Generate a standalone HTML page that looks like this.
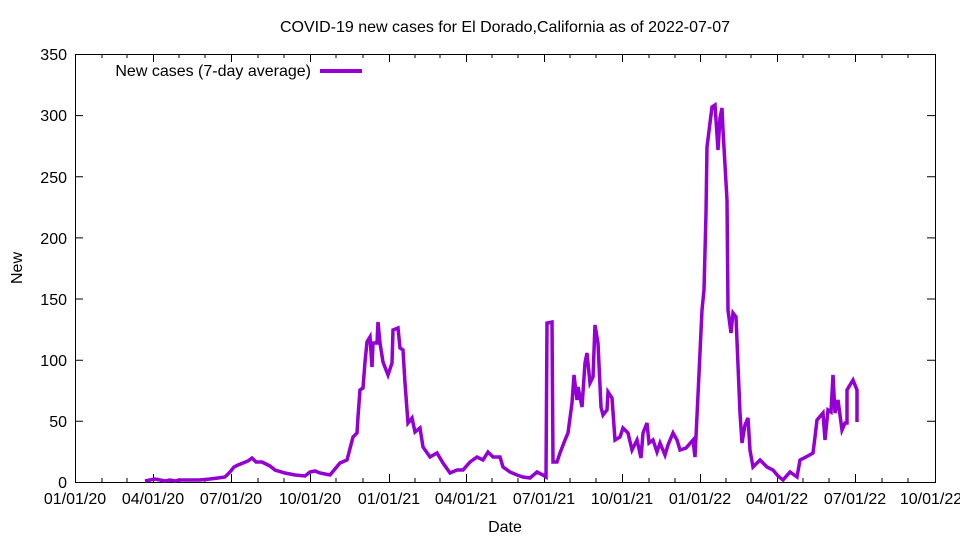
<!DOCTYPE html>
<html><head><meta charset="utf-8"><style>body{margin:0;background:#fff}svg{display:block}text{font-family:"Liberation Sans",sans-serif;font-size:16px;fill:#000}</style></head>
<body>
<svg width="960" height="540" viewBox="0 0 960 540">
<text x="505" y="32" text-anchor="middle">COVID-19 new cases for El Dorado,California as of 2022-07-07</text>
<g stroke="#000" stroke-width="1" fill="none">
<rect x="75.5" y="54.5" width="860" height="428"/>
<path d="M75 482.5h8M75 421.3h8M75 360.2h8M75 299h8M75 237.9h8M75 176.7h8M75 115.6h8M935 421.3h-8M935 360.2h-8M935 299h-8M935 237.9h-8M935 176.7h-8M935 115.6h-8"/>
<path d="M75.5 482v-8M153.5 482v-8M231.5 482v-8M310.5 482v-8M389.5 482v-8M466.5 482v-8M544.5 482v-8M622.5 482v-8M700.5 482v-8M777.5 482v-8M855.5 482v-8M75.5 54v8M153.5 54v8M231.5 54v8M310.5 54v8M389.5 54v8M466.5 54v8M544.5 54v8M622.5 54v8M700.5 54v8M777.5 54v8M855.5 54v8"/>
<path d="M102 482v-4M127 482v-4M179 482v-4M205 482v-4M258 482v-4M284 482v-4M336 482v-4M363 482v-4M415 482v-4M440 482v-4M492 482v-4M518 482v-4M570 482v-4M596 482v-4M649 482v-4M675 482v-4M726 482v-4M751 482v-4M803 482v-4M829 482v-4M882 482v-4M908 482v-4M102 54v4M127 54v4M179 54v4M205 54v4M258 54v4M284 54v4M336 54v4M363 54v4M415 54v4M440 54v4M492 54v4M518 54v4M570 54v4M596 54v4M649 54v4M675 54v4M726 54v4M751 54v4M803 54v4M829 54v4M882 54v4M908 54v4"/>
</g>
<g text-anchor="end">
<text x="67" y="488">0</text><text x="67" y="427">50</text><text x="67" y="366">100</text><text x="67" y="305">150</text><text x="67" y="244">200</text><text x="67" y="183">250</text><text x="67" y="121">300</text><text x="67" y="60">350</text>
</g>
<g text-anchor="middle">
<text x="75" y="504">01/01/20</text><text x="153" y="504">04/01/20</text><text x="231" y="504">07/01/20</text><text x="310" y="504">10/01/20</text><text x="389" y="504">01/01/21</text><text x="466" y="504">04/01/21</text><text x="544" y="504">07/01/21</text><text x="622" y="504">10/01/21</text><text x="700" y="504">01/01/22</text><text x="777" y="504">04/01/22</text><text x="855" y="504">07/01/22</text><text x="931" y="504">10/01/22</text>
<text x="505" y="532">Date</text>
<text transform="translate(22,268) rotate(-90)">New</text>
</g>
<text x="311" y="76" text-anchor="end">New cases (7-day average)</text>
<line x1="320" y1="71" x2="362" y2="71" stroke="#9400d3" stroke-width="4"/>
<polyline fill="none" stroke="#9400d3" stroke-width="3.5" stroke-linejoin="miter" points="145,481 150,480 155,479 160,480 165,481 170,480 175,481 180,480 190,480 200,480 210,479 218,478 225,477 230,472 234,467 238,465 243,463 248,461 252,458 256,462 262,462 266,464 270,466 275,470 285,473 295,475 305,476 310,472 315,471 320,473 325,474 330,475 340,463 347,460 353,437 357,433 358,417 360,390 363,388 365,362 367,342 370,337 372,367 373,343 377,343 378,322 380,343 383,362 388,375 392,363 393,330 398,328 400,348 403,350 405,383 408,423 412,418 415,432 420,428 423,447 430,457 437,453 443,463 450,473 457,470 463,470 470,462 477,457 483,460 488,452 493,457 500,457 503,467 510,472 517,475 523,477 530,478 537,472 543,475 546,477 547,323 552,322 553,462 557,462 560,453 565,440 568,433 572,403 574,375 577,400 578,387 582,407 585,363 587,353 590,383 593,377 595,325 598,343 601,407 603,415 607,410 608,392 612,398 615,440 620,437 623,428 628,433 632,450 637,440 641,458 643,433 647,423 649,443 653,440 657,452 660,443 665,455 668,445 673,433 677,440 680,450 686,448 693,440 695,457 698,395 702,310 704,290 706,213 707,147 710,123 712,107 715,105 718,150 720,118 722,108 723,130 727,200 728,310 731,333 733,313 736,317 740,413 742,443 745,425 748,418 750,450 753,467 760,460 767,467 773,470 778,476 783,480 790,472 797,477 800,460 806,457 813,453 815,437 817,420 823,413 825,440 828,410 831,412 833,375 835,413 838,400 842,430 845,423 847,423 847,390 853,380 857,390 857,422"/>
</svg>
</body></html>
